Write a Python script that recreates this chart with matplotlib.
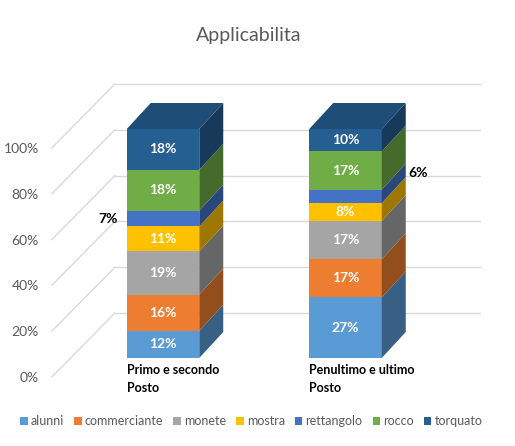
import matplotlib
matplotlib.use('Agg')
import matplotlib.pyplot as plt
import matplotlib.colors as mcolors
from matplotlib.patches import Polygon, Rectangle, Patch
import numpy as np

categories = ['Primo e secondo\nPosto', 'Penultimo e ultimo\nPosto']
series = ['alunni', 'commerciante', 'monete', 'mostra', 'rettangolo', 'rocco', 'torquato']
alunni = [12, 27]
commerciante = [16, 17]
monete = [19, 17]
mostra = [11, 8]
rettangolo = [7, 6]
rocco = [18, 17]
torquato = [18, 10]
yticks = [0, 20, 40, 60, 80, 100]

colors = ['#5B9BD5', '#ED7D31', '#A5A5A5', '#FFC000', '#4472C4', '#70AD47', '#255E91']

plt.rcParams['font.family'] = ['Lato', 'DejaVu Sans']

W, H = 515, 446
fig = plt.figure(figsize=(W / 100, H / 100), dpi=100)
ax = fig.add_axes([0, 0, 1, 1])

# pixels per category unit / per percent, origin of the bar front plane
px_x, px_y = 182.5, 2.29
x_org, y_org = 163, 358
ax.set_xlim(-x_org / px_x, (W - x_org) / px_x)
ax.set_ylim(-(H - y_org) / px_y, y_org / px_y)
ax.axis('off')


def shade(c, f):
    r, g, b = mcolors.to_rgb(c)
    return (r * f, g * f, b * f)


# oblique depth offsets (data units)
bdx, bdy = 24 / px_x, 26 / px_y      # bar depth
fdx, fdy = -19 / px_x, -19 / px_y    # front edge of the wall
wdx, wdy = 44 / px_x, 45 / px_y      # back wall
wall_l, wall_r = -0.505, 1.495

grid = '#D9D9D9'
for t in yticks:
    ax.plot([wall_l + fdx, wall_l + wdx], [t + fdy, t + wdy], color=grid, lw=1, zorder=1)
    ax.plot([wall_l + wdx, wall_r + wdx], [t + wdy, t + wdy], color=grid, lw=1, zorder=1)
    ax.text(wall_l + fdx - 13 / px_x, t + fdy - 1 / px_y, f'{t}%', ha='right', va='center',
            color='#595959', fontsize=10)

data = np.array([alunni, commerciante, monete, mostra, rettangolo, rocco, torquato], float)
share = data / data.sum(axis=0) * 100

bw = 72.5 / px_x
for i in range(len(categories)):
    x0, x1 = i - bw / 2, i + bw / 2
    bottom = 0
    for j in range(len(series)):
        h = share[j, i]
        top = bottom + h
        ax.add_patch(Rectangle((x0, bottom), bw, h, fc=colors[j], ec='none', zorder=3))
        ax.add_patch(Polygon([(x1, bottom), (x1 + bdx, bottom + bdy), (x1 + bdx, top + bdy), (x1, top)],
                             closed=True, fc=shade(colors[j], 0.62), ec='none', zorder=3))
        lbl = f'{int(data[j, i])}%'
        mid = bottom + h / 2
        if series[j] == 'rettangolo':
            if i == 0:
                ax.text(x0 - 9 / px_x, mid, lbl, ha='right', va='center', color='black',
                        fontsize=10, fontweight='bold', zorder=5)
            else:
                ax.text(x1 + bdx + 3 / px_x, mid + 23 / px_y, lbl, ha='left', va='center',
                        color='black', fontsize=10, fontweight='bold', zorder=5)
        else:
            ax.text(i, mid, lbl, ha='center', va='center', color='white',
                    fontsize=10, fontweight='bold', zorder=5)
        bottom = top
    ax.add_patch(Polygon([(x0, bottom), (x1, bottom), (x1 + bdx, bottom + bdy), (x0 + bdx, bottom + bdy)],
                         closed=True, fc=shade(colors[-1], 0.82), ec='none', zorder=3))
    ax.text(x0, -2.6, categories[i], ha='left', va='top', fontsize=9, fontweight='bold',
            linespacing=1.6, color='black')

fig.text(0.482, 1 - 35 / H, 'Applicabilita', ha='center', va='center', fontsize=14, color='#595959')

handles = [Patch(fc=c, label=s) for c, s in zip(colors, series)]
fig.legend(handles=handles, loc='center', bbox_to_anchor=(0.488, 1 - 421 / H), ncol=7, frameon=False,
           handlelength=0.6, handleheight=0.6, handletextpad=0.25, columnspacing=0.8,
           fontsize=9, labelcolor='#595959', borderpad=0, borderaxespad=0)

fig.savefig('out.png', dpi=100)
